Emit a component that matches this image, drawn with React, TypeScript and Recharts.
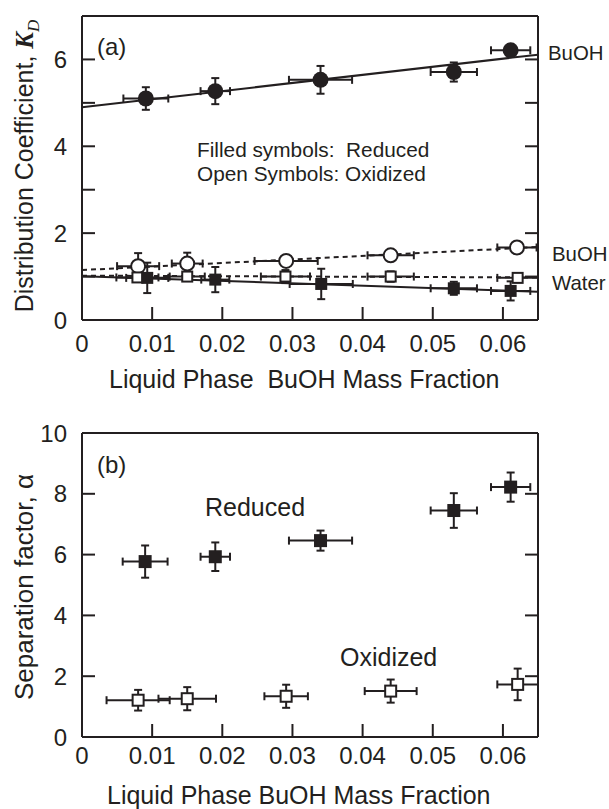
import { ErrorBar, ReferenceLine, Scatter, ScatterChart, XAxis, YAxis } from "recharts"

const ink = "#231f20"
const font = "'Liberation Sans', Arial, Helvetica, sans-serif"
const serif = "'Liberation Serif', 'DejaVu Serif', serif"

// (a) distribution coefficient, reduced BuOH (filled circles)
const xRedBuOH = [0.0091, 0.019, 0.034, 0.053, 0.0611]
const kRedBuOH = [5.1, 5.27, 5.53, 5.71, 6.21]
const xRedBuOHErr = [0.0032, 0.0021, 0.0045, 0.0033, 0.0028]
const kRedBuOHErr = [0.26, 0.3, 0.32, 0.22, 0.1]

// oxidized BuOH (open circles)
const xOxBuOH = [0.008, 0.015, 0.0291, 0.044, 0.062]
const kOxBuOH = [1.24, 1.3, 1.36, 1.49, 1.67]
const xOxBuOHErr = [0.003, 0.0022, 0.0045, 0.0033, 0.0028]
const kOxBuOHErr = [0.3, 0.25, 0.05, 0.12, 0.12]

// oxidized water (open squares)
const xOxWater = [0.0079, 0.015, 0.029, 0.044, 0.0621]
const kOxWater = [0.98, 1.0, 1.0, 1.0, 0.97]
const xOxWaterErr = [0.003, 0.0025, 0.0035, 0.0033, 0.0029]
const kOxWaterErr = [0.1, 0.1, 0.15, 0.12, 0.1]

// reduced water (filled squares)
const xRedWater = [0.0093, 0.019, 0.0341, 0.053, 0.0611]
const kRedWater = [0.97, 0.93, 0.83, 0.73, 0.67]
const xRedWaterErr = [0.003, 0.002, 0.0045, 0.0033, 0.0028]
const kRedWaterErr = [0.35, 0.29, 0.35, 0.15, 0.22]

// fitted lines, [x, y] end points
const fitRedBuOH = [[0, 4.9], [0.065, 6.11]]
const fitOxBuOH = [[0, 1.15], [0.065, 1.68]]
const fitOxWater = [[0, 1.02], [0.065, 0.98]]
const fitRedWater = [[0, 1.01], [0.065, 0.65]]

// (b) separation factor
const xAlphaRed = [0.009, 0.019, 0.034, 0.053, 0.0611]
const alphaRed = [5.77, 5.93, 6.46, 7.45, 8.22]
const xAlphaRedErr = [0.0032, 0.0021, 0.0045, 0.0033, 0.0028]
const alphaRedErr = [0.53, 0.47, 0.33, 0.57, 0.48]

const xAlphaOx = [0.008, 0.015, 0.0291, 0.044, 0.0621]
const alphaOx = [1.21, 1.26, 1.34, 1.51, 1.73]
const xAlphaOxErr = [0.0045, 0.0041, 0.0031, 0.0037, 0.0029]
const alphaOxErr = [0.34, 0.38, 0.38, 0.38, 0.52]

const xTicks = [0, 0.01, 0.02, 0.03, 0.04, 0.05, 0.06]
const xTopTicks = [0.01, 0.02, 0.03, 0.04, 0.05, 0.06]
const kTicks = [0, 1, 2, 3, 4, 5, 6, 7]
const kSideTicks = [1, 2, 3, 4, 5, 6]
const alphaTicks = [0, 2, 4, 6, 8, 10]
const alphaSideTicks = [2, 4, 6, 8]

function pts(xs: number[], ys: number[], xe: number[], ye: number[]) {
  return xs.map((x, i) => ({ x, y: ys[i], xe: xe[i], ye: ye[i] }))
}

const filledCircle = (p: any) => <circle cx={p.cx} cy={p.cy} r={8} fill={ink} />
const openCircle = (p: any) => <circle cx={p.cx} cy={p.cy} r={7} fill="#fff" stroke={ink} strokeWidth={2} />
const filledSquare = (s: number) => (p: any) => (
  <rect x={p.cx - s / 2} y={p.cy - s / 2} width={s} height={s} fill={ink} />
)
const openSquare = (s: number) => (p: any) => (
  <rect x={p.cx - s / 2 + 1} y={p.cy - s / 2 + 1} width={s - 2} height={s - 2} fill="#fff" stroke={ink} strokeWidth={2} />
)

const line = { stroke: ink, strokeWidth: 2 }
const tickFont = { fontSize: 24, fill: ink, fontFamily: font }
const xLabel = (v: number) => (v === 0 ? "0" : v.toFixed(2))

// axes are 1px thick so Recharts still draws them; ticks point inward
function frame(yTicks: number[], ySide: number[], yMax: number, yLabel: (v: number) => string, xMargin: number) {
  return [
    <XAxis key="xb" type="number" dataKey="x" domain={[0, 0.065]} allowDataOverflow ticks={xTicks} interval={0}
      height={1} tickSize={-13} tickMargin={xMargin} tickFormatter={xLabel} tick={tickFont} axisLine={line} tickLine={line} />,
    <XAxis key="xt" xAxisId="top" orientation="top" type="number" domain={[0, 0.065]} allowDataOverflow ticks={xTopTicks}
      interval={0} height={1} tickSize={-13} tickFormatter={() => ""} axisLine={line} tickLine={line} />,
    <YAxis key="yl" type="number" dataKey="y" domain={[0, yMax]} allowDataOverflow ticks={yTicks} interval={0}
      width={1} tickSize={-13} tickMargin={28} tickFormatter={yLabel} tick={tickFont} axisLine={line} tickLine={line} />,
    <YAxis key="yr" yAxisId="right" orientation="right" type="number" domain={[0, yMax]} allowDataOverflow ticks={ySide}
      interval={0} width={1} tickSize={-13} tickFormatter={() => ""} axisLine={line} tickLine={line} />,
  ]
}

function fit(seg: number[][], dashed: boolean) {
  return (
    <ReferenceLine
      segment={[{ x: seg[0][0], y: seg[0][1] }, { x: seg[1][0], y: seg[1][1] }]}
      stroke={ink}
      strokeWidth={2}
      strokeDasharray={dashed ? "5 4" : undefined}
    />
  )
}

function series(data: any[], shape: any) {
  return (
    <Scatter data={data} shape={shape} isAnimationActive={false}>
      <ErrorBar dataKey="xe" direction="x" width={4} stroke={ink} strokeWidth={2} />
      <ErrorBar dataKey="ye" direction="y" width={4} stroke={ink} strokeWidth={2} />
    </Scatter>
  )
}

export default function App() {
  const t = { fontFamily: font, fill: ink }
  return (
    <div style={{ position: "absolute", left: 0, top: 0, width: 609, height: 809, background: "#fff", fontFamily: font }}>
      <div style={{ position: "absolute", left: 0, top: 0 }}>
        <ScatterChart width={609} height={400} margin={{ top: 15, right: 70, bottom: 79, left: 81 }}>
          {frame(kTicks, kSideTicks, 7, (v) => (v % 2 === 0 ? String(v) : ""), 28)}
          {fit(fitRedBuOH, false)}
          {fit(fitOxBuOH, true)}
          {fit(fitOxWater, true)}
          {fit(fitRedWater, false)}
          {series(pts(xRedBuOH, kRedBuOH, xRedBuOHErr, kRedBuOHErr), filledCircle)}
          {series(pts(xOxBuOH, kOxBuOH, xOxBuOHErr, kOxBuOHErr), openCircle)}
          {series(pts(xOxWater, kOxWater, xOxWaterErr, kOxWaterErr), openSquare(12))}
          {series(pts(xRedWater, kRedWater, xRedWaterErr, kRedWaterErr), filledSquare(12))}
        </ScatterChart>
      </div>
      <div style={{ position: "absolute", left: 0, top: 400 }}>
        <ScatterChart width={609} height={409} margin={{ top: 32, right: 70, bottom: 71, left: 81 }}>
          {frame(alphaTicks, alphaSideTicks, 10, (v) => String(v), 23)}
          {series(pts(xAlphaRed, alphaRed, xAlphaRedErr, alphaRedErr), filledSquare(13))}
          {series(pts(xAlphaOx, alphaOx, xAlphaOxErr, alphaOxErr), openSquare(13))}
        </ScatterChart>
      </div>
      <svg width={609} height={809} style={{ position: "absolute", left: 0, top: 0, pointerEvents: "none" }}>
        <text x={97} y={55} fontSize={24} {...t}>(a)</text>
        <text x={197} y={157} fontSize={20.8} {...t} style={{ whiteSpace: "pre" }}>Filled symbols:  Reduced</text>
        <text x={197} y={181} fontSize={20.8} {...t}>Open Symbols: Oxidized</text>
        <text x={548} y={60} fontSize={20.4} {...t}>BuOH</text>
        <text x={552} y={261} fontSize={20.4} {...t}>BuOH</text>
        <text x={552} y={290} fontSize={20.4} {...t}>Water</text>
        <text x={109} y={388} fontSize={25} {...t} style={{ whiteSpace: "pre" }}>Liquid Phase  BuOH Mass Fraction</text>
        <text x={33} y={166} fontSize={25} textAnchor="middle" transform="rotate(-90 33 166)" {...t}>
          Distribution Coefficient,{" "}
          <tspan fontFamily={serif} fontWeight="bold" fontStyle="italic">K</tspan>
          <tspan fontFamily={serif} fontStyle="italic" fontSize={17} dy={6}>D</tspan>
        </text>
        <text x={97} y={473} fontSize={24} {...t}>(b)</text>
        <text x={205} y={516} fontSize={25} {...t}>Reduced</text>
        <text x={340} y={666} fontSize={25} {...t}>Oxidized</text>
        <text x={33} y={587} fontSize={26} textAnchor="middle" transform="rotate(-90 33 587)" {...t}>
          Separation factor, α
        </text>
        <text x={107} y={804} fontSize={25} {...t}>Liquid Phase BuOH Mass Fraction</text>
      </svg>
    </div>
  )
}
